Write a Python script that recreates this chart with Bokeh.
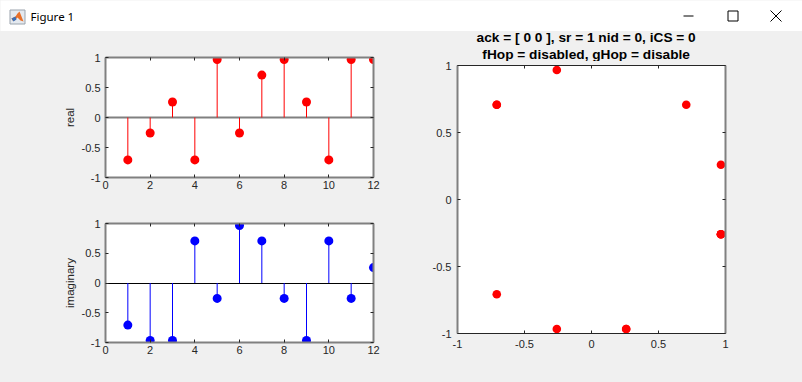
from bokeh.plotting import figure
from bokeh.models import (Range1d, LinearAxis, FixedTicker,
                          ColumnDataSource, CustomLabelingPolicy)
from bokeh.layouts import column, row
from bokeh.core.properties import value
from bokeh.embed import file_html
from bokeh.resources import INLINE

# ---------------- data ----------------
n = [1, 2, 3, 4, 5, 6, 7, 8, 9, 10, 11, 12]
real_vals = [-0.7071, -0.2588, 0.2588, -0.7071, 0.9659, -0.2588,
             0.7071, 0.9659, 0.2588, -0.7071, 0.9659, 0.9659]
imag_vals = [-0.7071, -0.9659, -0.9659, 0.7071, -0.2588, 0.9659,
             0.7071, -0.2588, -0.9659, 0.7071, -0.2588, 0.2588]
baseline = [0]

stem_x_ticks = [0, 2, 4, 6, 8, 10, 12]
stem_x_labels = ["0", "2", "4", "6", "8", "10", "12"]
y_ticks = [-1, -0.5, 0, 0.5, 1]
y_labels = ["-1", "-0.5", "0", "0.5", "1"]
iq_x_ticks = [-1, -0.5, 0, 0.5, 1]
iq_x_labels = ["-1", "-0.5", "0", "0.5", "1"]

title_lines = ["ack = [ 0 0 ], sr = 1 nid = 0, iCS = 0",
               "fHop = disabled, gHop = disable"]
window_title = "Figure 1"

FONT = "Liberation Sans"
TXT = "#262626"
GRAY = "#808080"
BG = "#F0F0F0"

src_re = ColumnDataSource(dict(n=n, v=real_vals, zero=[0] * len(n)))
src_im = ColumnDataSource(dict(n=n, v=imag_vals, zero=[0] * len(n)))
src_iq = ColumnDataSource(dict(re=real_vals, im=imag_vals))

no_labels = CustomLabelingPolicy(
    code="for (const i of indices) { indices.unset(i) }\nreturn indices")


def add_axis(p, place, ticks, labels, show, color, width, standoff=4):
    ax = LinearAxis(
        ticker=FixedTicker(ticks=ticks),
        major_label_overrides={t: l for t, l in zip(ticks, labels)},
        major_tick_in=3, major_tick_out=0,
        minor_tick_in=0, minor_tick_out=0,
        axis_line_color=color, axis_line_width=width,
        major_tick_line_color=TXT, major_tick_line_width=1,
        major_label_text_font=FONT,
        major_label_text_font_size="11px" if show else "1px",
        major_label_text_color=TXT,
        major_label_standoff=standoff if show else 0,
    )
    if not show:
        ax.major_label_policy = no_labels
    p.add_layout(ax, place)
    return ax


def base_fig(xr, yr, w, h, bl, br, bt, bb):
    p = figure(width=w, height=h, x_range=xr, y_range=yr,
               x_axis_type=None, y_axis_type=None, tools="",
               output_backend="svg", toolbar_location=None,
               min_border_left=bl, min_border_right=br,
               min_border_top=bt, min_border_bottom=bb)
    p.background_fill_color = "white"
    p.border_fill_color = BG
    p.outline_line_color = None
    return p


def stem_fig(h, bt, bb, src, color, ylabel, base_color, base_w):
    p = base_fig(Range1d(0, 12), Range1d(-1, 1), 400, h, 105, 27, bt, bb)
    p.hspan(y=baseline, line_color=base_color, line_width=base_w)
    p.segment(x0="n", y0="zero", x1="n", y1="v", source=src,
              line_color=color, line_width=1)
    p.circle(x="n", y="v", source=src, radius=4.5, radius_units="screen",
             fill_color=color, line_color=None)
    add_axis(p, "below", stem_x_ticks, stem_x_labels, True, GRAY, 2, 3)
    yl = add_axis(p, "left", y_ticks, y_labels, True, GRAY, 2, 5)
    yl.axis_label = ylabel
    yl.axis_label_text_font = FONT
    yl.axis_label_text_font_size = "11.5px"
    yl.axis_label_text_font_style = "normal"
    yl.axis_label_text_color = TXT
    yl.axis_label_standoff = 3
    add_axis(p, "above", stem_x_ticks, stem_x_labels, False, GRAY, 2)
    add_axis(p, "right", y_ticks, y_labels, False, GRAY, 2)
    return p


p_re = stem_fig(169, 26, 23, src_re, "#FF0000", "real", GRAY, 2)
p_im = stem_fig(182, 23, 40, src_im, "#0000FF", "imaginary", "#000000", 1)

# constellation title (two bold lines above the axes)
tt = figure(width=402, height=30, x_range=Range1d(400, 802),
            y_range=Range1d(61, 31), x_axis_type=None, y_axis_type=None,
            tools="", output_backend="svg", toolbar_location=None,
            min_border=0)
tt.background_fill_color = BG
tt.border_fill_color = BG
tt.outline_line_color = None
tt.text(x=[593, 593], y=[36.5, 53.5], text=title_lines,
        text_font=value(FONT), text_font_style="bold",
        text_font_size="13.7px", text_align="center",
        text_baseline="middle", text_color="#000000")

# constellation
p_iq = base_fig(Range1d(-1, 1), Range1d(-1, 1), 402, 321, 57, 77, 4, 49)
p_iq.circle(x="re", y="im", source=src_iq, radius=4.3, radius_units="screen",
            fill_color="#FF0000", line_color=None)
add_axis(p_iq, "below", iq_x_ticks, iq_x_labels, True, TXT, 1, 6)
add_axis(p_iq, "left", y_ticks, y_labels, True, GRAY, 2, 6)
add_axis(p_iq, "above", iq_x_ticks, iq_x_labels, False, TXT, 1)
add_axis(p_iq, "right", y_ticks, y_labels, False, GRAY, 2)

# window title bar
tb = figure(width=802, height=31, x_range=Range1d(0, 802),
            y_range=Range1d(31, 0), x_axis_type=None, y_axis_type=None,
            tools="", output_backend="svg", toolbar_location=None,
            min_border=0)
tb.background_fill_color = "white"
tb.border_fill_color = "white"
tb.outline_line_color = None
# icon
tb.quad(left=9.5, right=24.5, top=9.5, bottom=23.5, fill_color="#e4e9ef",
        line_color="#9aa3ad")
tb.patch(x=[11, 15, 17, 19, 23, 20, 17, 14, 12],
         y=[18, 16, 13, 11, 21, 20, 17, 20, 20],
         fill_color="#e8702a", line_color=None)
tb.patch(x=[11, 15, 16, 13], y=[18, 16, 19, 21], fill_color="#3b6fb6",
         line_color=None)
tb.text(x=[30], y=[16], text=[window_title], text_font=value("Noto Sans"),
        text_font_size="11.5px", text_baseline="middle", text_color="#000000")
# window controls
tb.line(x=[683, 693], y=[15.5, 15.5], line_color="#000000", line_width=1)
tb.quad(left=727.5, right=737.5, top=10.5, bottom=20.5, fill_color=None,
        line_color="#000000", line_width=1)
tb.segment(x0=[770, 770], y0=[10, 21], x1=[781, 781], y1=[21, 10],
           line_color="#000000", line_width=1)

right_col = column(tt, p_iq, spacing=0, styles={"background-color": BG})
left_col = column(p_re, p_im, spacing=0, styles={"background-color": BG})
body = row(left_col, right_col, spacing=0, styles={"background-color": BG})
layout = column(tb, body, spacing=0, styles={"background-color": BG})

open("out.html", "w").write(file_html(layout, INLINE))
